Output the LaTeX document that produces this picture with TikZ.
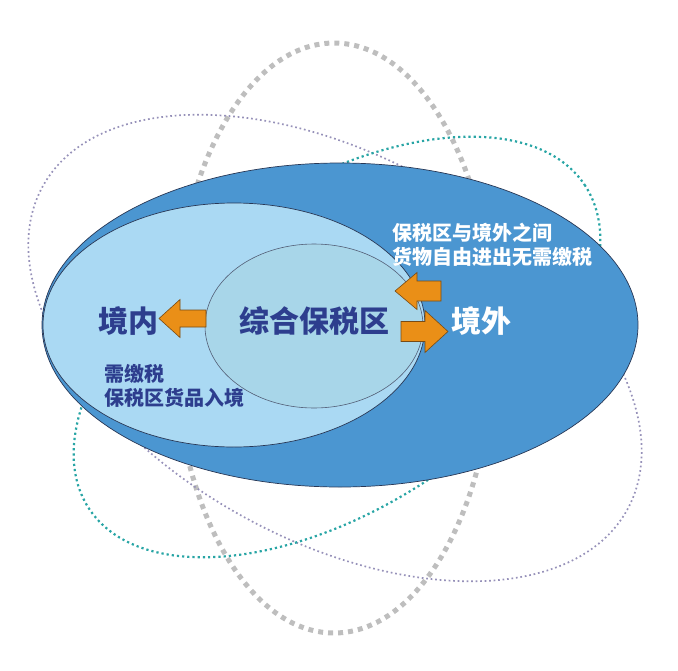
\documentclass[tikz,border=0pt]{standalone}
\usepackage{fontspec}
\newfontfamily\cjk{Noto Sans CJK SC}
\definecolor{outerblue}{RGB}{75,150,209}
\definecolor{lightblue}{RGB}{170,217,243}
\definecolor{innerblue}{RGB}{168,214,233}
\definecolor{edgecol}{RGB}{40,55,85}
\definecolor{navytext}{RGB}{45,62,142}
\definecolor{arroworange}{RGB}{234,143,23}
\definecolor{arrowedge}{RGB}{120,75,20}
\definecolor{graydot}{RGB}{190,190,190}
\definecolor{purpledot}{RGB}{150,145,185}
\definecolor{tealdot}{RGB}{40,165,165}
\tikzset{
  graydots/.style={draw=graydot, line width=5pt, dash pattern=on 5pt off 5pt},
  purpledots/.style={draw=purpledot, line width=1.7pt, dash pattern=on 1.7pt off 2.8pt},
  tealdots/.style={draw=tealdot, line width=2.2pt, dash pattern=on 2.2pt off 3pt},
  orangearrow/.style={fill=arroworange, draw=arrowedge, line width=0.6pt, line join=miter},
  bigtext/.style={font=\cjk\bfseries\fontsize{30}{30}\selectfont, inner sep=0pt},
  smalltext/.style={font=\cjk\bfseries\fontsize{20}{24}\selectfont, inner sep=0pt, align=left},
  pics/leftarrow/.style args={#1/#2/#3/#4}{code={
    \draw[orangearrow] (0,0) -- (#2,-#3) -- (#2,-#4) -- (#1,-#4) -- (#1,#4) -- (#2,#4) -- (#2,#3) -- cycle;
  }}
}
\begin{document}
\begin{tikzpicture}[x=1pt,y=-1pt]
\useasboundingbox (0,0) rectangle (678,670);
% background orbits
\draw[graydots] (334,338) ellipse [x radius=160pt, y radius=295pt];
\draw[purpledots, rotate around={-29:(335,348)}] (335,348) ellipse [x radius=334pt, y radius=192pt];
\draw[tealdots, rotate around={33:(337,347)}] (337,347) ellipse [x radius=296pt, y radius=161pt];
% main ellipses
\draw[fill=outerblue, draw=edgecol, line width=0.7pt] (340,325) ellipse [x radius=298pt, y radius=162pt];
\draw[fill=lightblue, draw=edgecol, line width=0.7pt] (234,325) ellipse [x radius=191pt, y radius=122pt];
\draw[fill=innerblue, draw=edgecol!80, line width=0.6pt] (314,326) ellipse [x radius=109pt, y radius=82pt];
% arrows
\pic at (159,318.5) {leftarrow={47/21/19/8.5}};
\pic at (395,291) {leftarrow={46/22/18.5/10}};
\pic[xscale=-1] at (448,331.5) {leftarrow={47/23/21/10}};
% texts
\node[bigtext, text=navytext] (zone) at (314,321) {综合保税区};
\node[bigtext, text=navytext] (inside) at (128,321) {境内};
\node[bigtext, text=white] (outside) at (481,321) {境外};
\node[smalltext, text=white, anchor=west] (freenote) at (392,245) {保税区与境外之间\\货物自由进出无需缴税};
\node[smalltext, text=navytext, anchor=west] (taxnote) at (104,386) {需缴税\\保税区货品入境};
\end{tikzpicture}
\end{document}
